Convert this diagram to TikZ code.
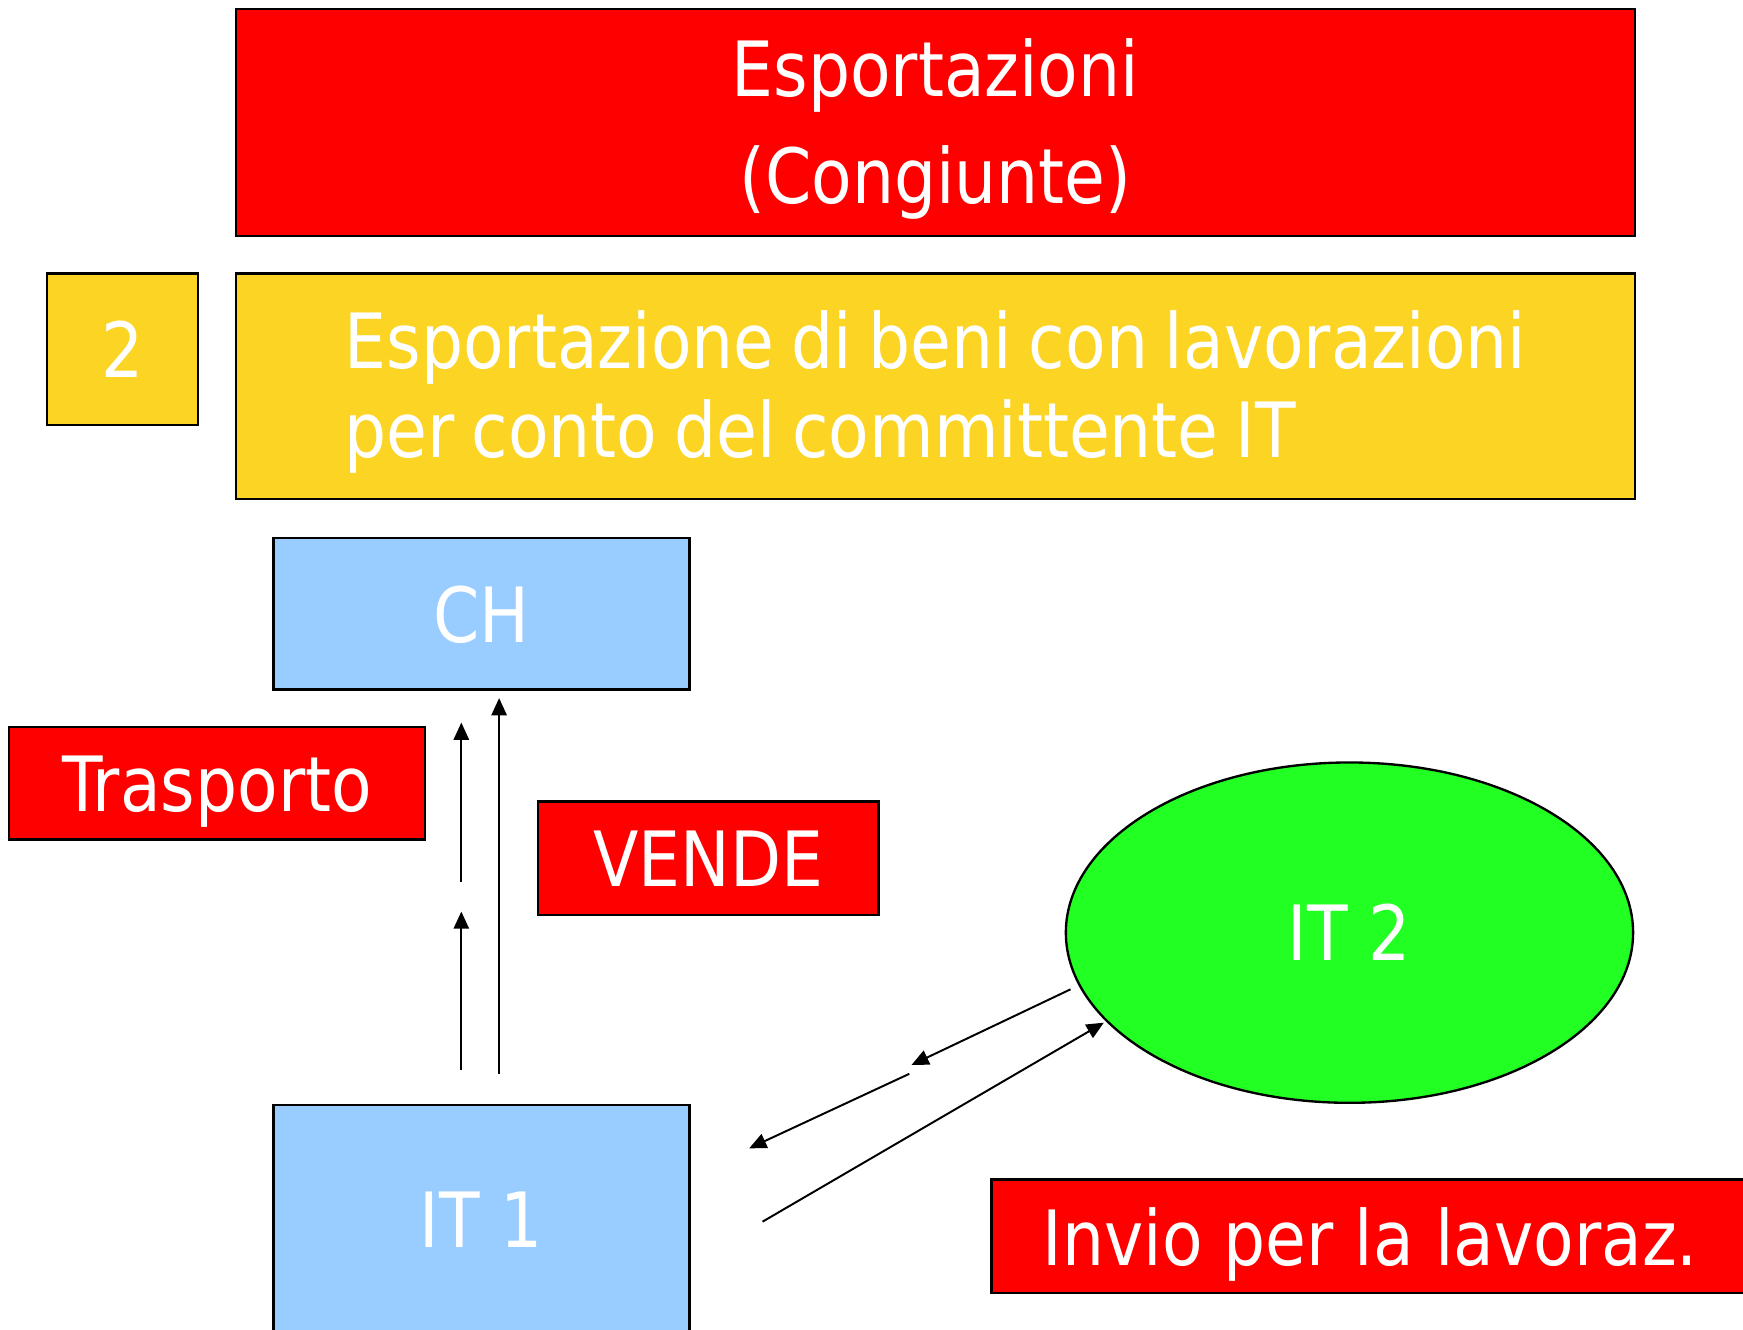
\documentclass[tikz,border=0pt]{standalone}
\usepackage{fontspec}
\setmainfont[FakeStretch=0.87]{DejaVu Sans}
\newfontfamily\tightfont[FakeStretch=0.87,WordSpace=0.8]{DejaVu Sans}
\usetikzlibrary{shapes.geometric,arrows.meta}
\definecolor{flag}{HTML}{FF0000}
\definecolor{gold}{HTML}{FCD424}
\definecolor{sky}{HTML}{99CCFF}
\definecolor{leaf}{HTML}{22FF22}

\begin{document}
\begin{tikzpicture}[x=0.01cm, y=-0.01cm,
		box/.style={draw, line width=0.6pt, inner sep=0pt, text=white, text depth=0pt,
			anchor=north west, font=\fontsize{19.5pt}{24pt}\selectfont},
		redbox/.style={box, fill=flag},
		goldbox/.style={box, fill=gold},
		skybox/.style={box, fill=sky},
		link/.style={line width=0.5pt, -{Triangle[length=4.4pt,width=3.9pt]}}
	]
	\useasboundingbox (0,0) rectangle (1568,1196);
	% headings
	\node [redbox, minimum width=12.58cm, minimum height=2.04cm, align=center,
		text height=46.1pt, text depth=4.6pt,
		font=\fontsize{19.5pt}{27.3pt}\selectfont] (title) at (211,7)
		{Esportazioni\\(Congiunte)};
	\node [goldbox, minimum width=1.36cm, minimum height=1.36cm] (num) at (41,245) {2};
	\node [goldbox, minimum width=12.58cm, minimum height=2.03cm, align=left,
		text height=40.9pt, text depth=4.6pt,
		font=\tightfont\fontsize{19.5pt}{22.7pt}\selectfont] (case) at (211,245)
		{Esportazione di beni con lavorazioni\\per conto del committente IT};
	%
	% parties
	\node [skybox, minimum width=3.74cm, minimum height=1.36cm] (ch) at (245,483) {CH};
	\node [skybox, minimum width=3.74cm, minimum height=2.07cm] (it1) at (245,993) {IT 1};
	\node [draw, line width=0.6pt, fill=leaf, ellipse, text=white,
		minimum width=5.1cm, minimum height=3.06cm,
		font=\fontsize{19.5pt}{24pt}\selectfont] (it2) at (1214,839) {IT 2};
	%
	% labels
	\node [redbox, minimum width=3.74cm, minimum height=1.01cm] (carry) at (7,653) {Trasporto};
	\node [redbox, minimum width=3.06cm, minimum height=1.02cm] (sell) at (483,720) {VENDE};
	\node [redbox, minimum width=6.81cm, minimum height=1.02cm] (send) at (891,1060) {Invio per la lavoraz.};
	%
	% flows
	\coordinate (t1) at (415,963);  \coordinate (t2) at (415,820);
	\coordinate (t3) at (415,793);  \coordinate (t4) at (415,650);
	\coordinate (v1) at (449,966);  \coordinate (v2) at (449,628);
	\coordinate (r1) at (963,890);  \coordinate (r2) at (820,958);
	\coordinate (r3) at (818,966);  \coordinate (r4) at (674,1033);
	\coordinate (s1) at (686,1099); \coordinate (s2) at (993,920);
	\draw [link] (t1) -- (t2);
	\draw [link] (t3) -- (t4);
	\draw [link] (v1) -- (v2);
	\draw [link] (r1) -- (r2);
	\draw [link] (r3) -- (r4);
	\draw [link] (s1) -- (s2);
\end{tikzpicture}
\end{document}
